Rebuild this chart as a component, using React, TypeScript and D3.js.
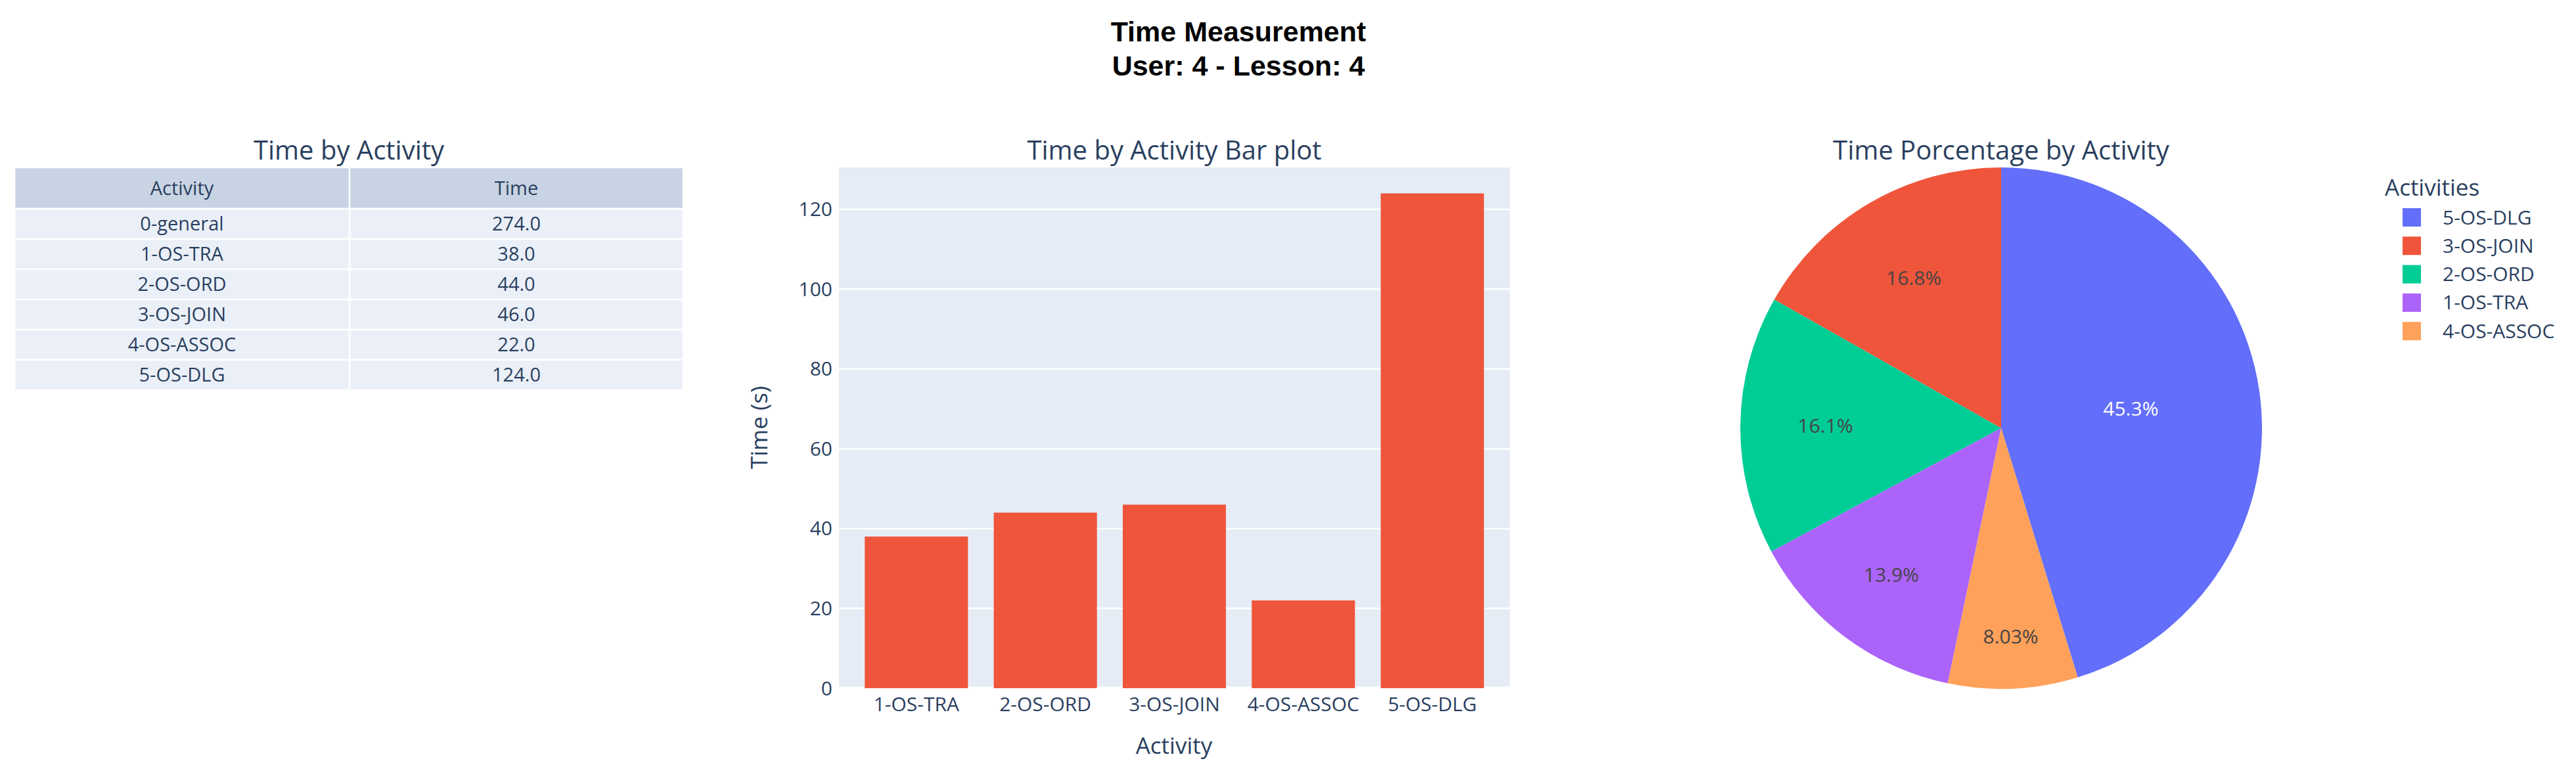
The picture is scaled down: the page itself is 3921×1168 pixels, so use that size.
import React from "react";
import * as d3 from "d3";

// table data
const tableActivities = ["0-general", "1-OS-TRA", "2-OS-ORD", "3-OS-JOIN", "4-OS-ASSOC", "5-OS-DLG"];
const tableTimes = [274, 38, 44, 46, 22, 124];

// bar data
const barActivities = ["1-OS-TRA", "2-OS-ORD", "3-OS-JOIN", "4-OS-ASSOC", "5-OS-DLG"];
const barTimes = [38, 44, 46, 22, 124];
const yTicks = [0, 20, 40, 60, 80, 100, 120];

// pie data (legend order)
const pieLabels = ["5-OS-DLG", "3-OS-JOIN", "2-OS-ORD", "1-OS-TRA", "4-OS-ASSOC"];
const pieValues = [124, 46, 44, 38, 22];
const pieColors = ["#636efa", "#EF553B", "#00cc96", "#ab63fa", "#FFA15A"];

const W = 3921;
const H = 1168;
const FONT = "'Open Sans', verdana, arial, sans-serif";
const TXT = "#2a3f5f";

function isLight(c: string) {
  const r = d3.rgb(c);
  return (r.r * 299 + r.g * 587 + r.b * 114) / 1000 >= 128;
}

export default function App() {
  // ---- table
  const tX0 = 22, tX1 = 532, tX2 = 1040;
  const headTop = 255, headH = 63, rowH = 46;

  // ---- bars
  const x = d3.scaleBand().domain(barActivities).range([1277, 2298]).padding(0.2);
  const y = d3.scaleLinear().domain([0, 130.5]).range([1048, 255]);

  // ---- pie
  const cx = 3046, cy = 652, R = 397;
  const total = d3.sum(pieValues);
  const a0 = (2 * Math.PI * pieValues[0]) / total;
  const arcs = d3.pie<number>().sort(null).startAngle(a0).endAngle(a0 - 2 * Math.PI)(pieValues);
  const arcGen = d3.arc<d3.PieArcDatum<number>>().innerRadius(0).outerRadius(R);
  const fmt = d3.format(".3r");

  return (
    <svg width={W} height={H} style={{ position: "absolute", left: 0, top: 0, background: "white" }} fontFamily={FONT}>
      <rect width={W} height={H} fill="white" />
      {/* main title */}
      <text x={1885} y={63} textAnchor="middle" fontFamily="'Liberation Sans', Arial, sans-serif" fontWeight="bold" fontSize={43} fill="black">
        Time Measurement
      </text>
      <text x={1885} y={115} textAnchor="middle" fontFamily="'Liberation Sans', Arial, sans-serif" fontWeight="bold" fontSize={43} fill="black">
        User: 4 - Lesson: 4
      </text>

      {/* subplot titles */}
      <text x={(tX0 + tX2) / 2} y={243} textAnchor="middle" fontSize={40} fill={TXT}>Time by Activity</text>
      <text x={(1277 + 2298) / 2} y={243} textAnchor="middle" fontSize={40} fill={TXT}>Time by Activity Bar plot</text>
      <text x={cx} y={243} textAnchor="middle" fontSize={40} fill={TXT}>Time Porcentage by Activity</text>

      {/* table */}
      <g>
        <rect x={tX0} y={headTop} width={tX1 - tX0} height={headH} fill="#C8D4E3" stroke="white" strokeWidth={2.5} />
        <rect x={tX1} y={headTop} width={tX2 - tX1} height={headH} fill="#C8D4E3" stroke="white" strokeWidth={2.5} />
        <text x={(tX0 + tX1) / 2} y={headTop + headH / 2 + 10} textAnchor="middle" fontSize={29} fill={TXT}>Activity</text>
        <text x={(tX1 + tX2) / 2} y={headTop + headH / 2 + 10} textAnchor="middle" fontSize={29} fill={TXT}>Time</text>
        {tableActivities.map((a, i) => {
          const ry = headTop + headH + i * rowH;
          return (
            <g key={a}>
              <rect x={tX0} y={ry} width={tX1 - tX0} height={rowH} fill="#EBF0F8" stroke="white" strokeWidth={2.5} />
              <rect x={tX1} y={ry} width={tX2 - tX1} height={rowH} fill="#EBF0F8" stroke="white" strokeWidth={2.5} />
              <text x={(tX0 + tX1) / 2} y={ry + rowH / 2 + 10} textAnchor="middle" fontSize={29} fill={TXT}>{a}</text>
              <text x={(tX1 + tX2) / 2} y={ry + rowH / 2 + 10} textAnchor="middle" fontSize={29} fill={TXT}>{tableTimes[i].toFixed(1)}</text>
            </g>
          );
        })}
      </g>

      {/* bar plot */}
      <g>
        <rect x={1277} y={255} width={2298 - 1277} height={1048 - 255} fill="#E5ECF6" />
        {yTicks.map((t) => (
          <g key={t}>
            <line x1={1277} x2={2298} y1={y(t)} y2={y(t)} stroke="white" strokeWidth={t === 0 ? 5 : 2.5} />
            <text x={1267} y={y(t)} dy="0.35em" textAnchor="end" fontSize={30} fill={TXT}>{t}</text>
          </g>
        ))}
        {barActivities.map((a, i) => (
          <rect key={a} x={x(a)} y={y(barTimes[i])} width={x.bandwidth()} height={y(0) - y(barTimes[i])} fill="#EF553B" />
        ))}
        {barActivities.map((a) => (
          <text key={a} x={(x(a) as number) + x.bandwidth() / 2} y={1083} textAnchor="middle" fontSize={30} fill={TXT}>{a}</text>
        ))}
        <text x={1787} y={1148} textAnchor="middle" fontSize={35} fill={TXT}>Activity</text>
        <text transform={`translate(1168,651) rotate(-90)`} textAnchor="middle" fontSize={35} fill={TXT}>Time (s)</text>
      </g>

      {/* pie */}
      <g transform={`translate(${cx},${cy})`}>
        {arcs.map((d, i) => (
          <path key={pieLabels[i]} d={arcGen(d) as string} fill={pieColors[i]} />
        ))}
        {arcs.map((d, i) => {
          const mid = (d.startAngle + d.endAngle) / 2;
          const half = Math.abs(d.endAngle - d.startAngle) / 2;
          const rIn = Math.min(1 / (1 + 1 / Math.sin(half)), 0.5);
          const rc = (1 - rIn) * R;
          return (
            <text key={pieLabels[i]} x={rc * Math.sin(mid)} y={-rc * Math.cos(mid)} dy="0.35em" textAnchor="middle" fontSize={30}
              fill={isLight(pieColors[i]) ? "#444" : "white"}>
              {fmt((100 * d.value) / total)}%
            </text>
          );
        })}
      </g>

      {/* legend */}
      <g>
        <text x={3630} y={298} fontSize={35} fill={TXT}>Activities</text>
        {pieLabels.map((l, i) => {
          const ly = 331 + i * 43.3;
          return (
            <g key={l}>
              <rect x={3657} y={ly - 14} width={28} height={28} fill={pieColors[i]} />
              <text x={3718} y={ly} dy="0.35em" fontSize={30} fill={TXT}>{l}</text>
            </g>
          );
        })}
      </g>
    </svg>
  );
}
